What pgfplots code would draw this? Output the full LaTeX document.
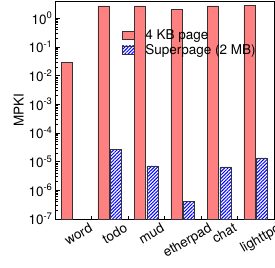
\documentclass[border=0pt]{standalone}
\usepackage{pgfplots}
\pgfplotsset{compat=1.18}
\usepackage{fontspec}
\setmainfont{TeX Gyre Heros}
\usetikzlibrary{patterns.meta}
\definecolor{lred}{RGB}{255,128,128}
\newcommand{\ff}{\fontsize{13.5}{15}\selectfont}
\begin{document}
\begin{tikzpicture}[font=\ff]
\begin{axis}[
  scale only axis,
  width=219pt, height=218pt,
  ymode=log, log origin=infty,
  ymin=1e-7, ymax=4,
  xmin=-0.5, xmax=5.5,
  ybar=1.5pt, bar width=11pt,
  xtick={0,1,2,3,4,5},
  xticklabels={\rotatebox{30}{word},\rotatebox{30}{todo},\rotatebox{30}{mud},\rotatebox{30}{etherpad},\rotatebox{30}{chat},\rotatebox{30}{lighttpd}},
  tick label style={font=\ff},
  label style={font=\ff},
  xticklabel style={anchor=north, xshift=5pt, yshift=0pt},
  major x tick style={draw=none},
  minor xtick={0.5,1.5,2.5,3.5,4.5},
  minor x tick style={black, line width=0.8pt},
  xtick pos=bottom, ytick pos=left,
  tick align=inside,
  major tick length=5pt, minor tick length=3pt,
  ytick={1e-7,1e-6,1e-5,1e-4,1e-3,1e-2,1e-1,1},
  yticklabel={\pgfmathparse{int(round(\tick/2.302585))}10\textsuperscript{\pgfmathresult}},
  yticklabel style={xshift=1pt},
  ylabel={MPKI},
  ylabel style={yshift=-2pt},
  axis line style={black, line width=0.8pt},
  every tick/.style={black, line width=0.7pt},
  legend style={at={(rel axis cs:0.29,0.885)}, anchor=north west, draw=none, fill=none,
    row sep=0pt, font=\ff, nodes={inner ysep=1.5pt}},
  legend cell align=left,
  legend image code/.code={\draw[#1] (-10pt,-4pt) rectangle (2pt,4pt);},
]
\addplot[fill=lred, draw=black!80, line width=0.6pt] coordinates {
  (0,0.028) (1,2.7) (2,2.7) (3,2.1) (4,2.7) (5,2.9)};
\addplot[pattern={Lines[angle=45, distance=2.4pt, line width=1pt]}, pattern color=blue, draw=black!80, line width=0.6pt] coordinates {
  (1,2.6e-5) (2,7.1e-6) (3,4.2e-7) (4,6.6e-6) (5,1.35e-5)};
\legend{\hspace*{9pt}4 KB page, \hspace*{9pt}Superpage (2 MB)}
\coordinate (sw) at (rel axis cs:0,0);
\coordinate (ne) at (rel axis cs:1,1);
\end{axis}
\pgfresetboundingbox
\useasboundingbox ([xshift=-55pt,yshift=-48pt]sw) rectangle ([xshift=1pt,yshift=1pt]ne);
\end{tikzpicture}
\end{document}
